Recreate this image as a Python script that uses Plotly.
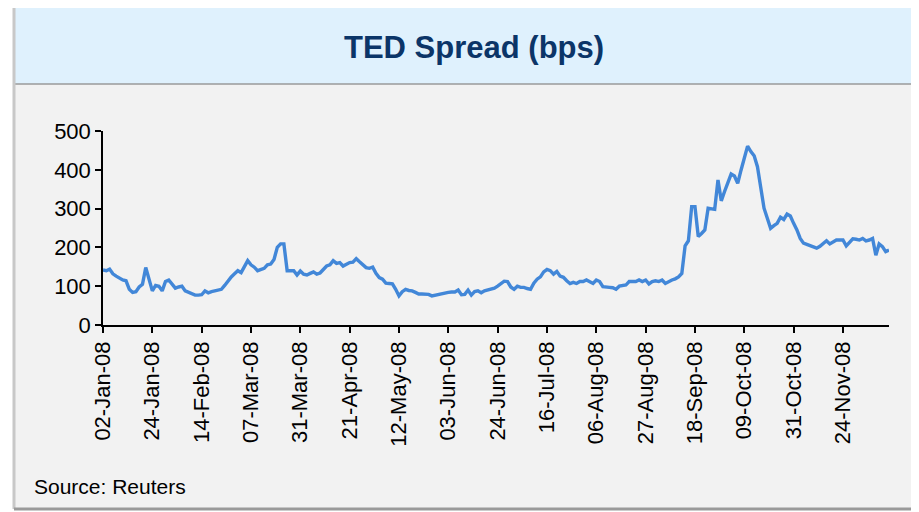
import pandas as pd
import plotly.graph_objects as go

# Trading days 2008 (bond-market calendar, holidays dropped)
holidays = ["2008-01-01", "2008-01-21", "2008-02-18", "2008-03-21", "2008-05-26",
            "2008-07-04", "2008-09-01", "2008-10-13", "2008-11-11", "2008-11-27"]
dates = pd.bdate_range("2008-01-02", "2008-12-15", freq="C", holidays=holidays)
labels = [d.strftime("%d-%b-%y") for d in dates]

# TED spread, bps
ted_bps = [
    142, 140, 144, 132, 126, 120, 116, 114, 92, 84,
    86, 98, 105, 148, 116, 88, 102, 100, 88, 112,
    116, 104, 95, 98, 100, 88, 84, 80, 77, 77,
    78, 88, 83, 86, 88, 88, 92, 102, 114, 124,
    132, 140, 135, 150, 166, 155, 149, 140, 143, 146,
    155, 157, 169, 200, 209, 209, 140, 140, 140, 129,
    139, 131, 129, 133, 137, 131, 134, 143, 152, 155,
    166, 159, 161, 152, 156, 161, 162, 171, 163, 155,
    148, 146, 149, 133, 122, 118, 108, 107, 106, 92,
    75, 86, 92, 89, 88, 84, 80, 80, 80, 79,
    75, 77, 80, 80, 83, 84, 85, 85, 90, 78,
    79, 90, 77, 86, 88, 83, 88, 90, 92, 95,
    100, 106, 113, 112, 98, 92, 100, 97, 97, 94,
    92, 108, 118, 124, 137, 143, 140, 131, 138, 126,
    123, 114, 107, 110, 107, 112, 112, 116, 112, 107,
    116, 112, 99, 97, 97, 96, 92, 100, 101, 103,
    112, 112, 112, 116, 112, 116, 106, 112, 114, 112,
    116, 107, 112, 116, 119, 124, 133, 204, 217, 305,
    305, 228, 236, 245, 301, 300, 298, 374, 320, 344,
    366, 389, 384, 365, 399, 427, 461, 447, 436, 408,
    355, 301, 275, 249, 256, 262, 278, 272, 286, 281,
    262, 245, 223, 211, 208, 204, 202, 198, 203, 211,
    217, 209, 214, 219, 219, 219, 204, 214, 222, 221,
    219, 223, 217, 219, 223, 180, 209, 202, 189, 193,
]
tick_labels = labels[::15]

W, H = 919, 512
OFF = 8  # the page body margin shifts the figure by 8px
L, R, T, B = 103, 889, 131, 325  # plot area as seen on screen


def px(x):
    return (x - L) / (R - L)


def py(y):
    return (B - y) / (B - T)


fig = go.Figure(go.Scatter(
    x=labels, y=ted_bps, mode="lines",
    line=dict(color="#4287d8", width=3.4),
    hoverinfo="x+y",
))

shapes = [
    # lower grey panel
    dict(type="rect", xref="paper", yref="paper", layer="below",
         x0=px(14), x1=px(940), y0=py(509), y1=py(84),
         fillcolor="#f2f2f2", line=dict(width=0)),
    # header band
    dict(type="rect", xref="paper", yref="paper", layer="below",
         x0=px(14), x1=px(940), y0=py(84), y1=py(7),
         fillcolor="#dff1fd", line=dict(width=0)),
    # separator under the header
    dict(type="line", xref="paper", yref="paper",
         x0=px(14), x1=px(940), y0=py(84), y1=py(84),
         line=dict(color="#9a9a9a", width=1.5)),
    # left shadow edge
    dict(type="line", xref="paper", yref="paper",
         x0=px(14), x1=px(14), y0=py(509), y1=py(7),
         line=dict(color="#c8c8c8", width=3)),
    # bottom edge
    dict(type="line", xref="paper", yref="paper",
         x0=px(14), x1=px(940), y0=py(509), y1=py(509),
         line=dict(color="#9a9a9a", width=3)),
]

fig.update_layout(
    width=W, height=H,
    margin=dict(l=L - OFF, r=W - (R - OFF), t=T - OFF, b=H - (B - OFF)),
    paper_bgcolor="white",
    plot_bgcolor="rgba(0,0,0,0)",
    showlegend=False,
    font=dict(family="Liberation Sans, Arial, sans-serif", color="black", size=22),
    shapes=shapes,
    annotations=[
        dict(text="<b>TED Spread (bps)</b>", xref="paper", yref="paper",
             x=px(474), y=py(47), xanchor="center", yanchor="middle",
             showarrow=False, font=dict(size=31, color="#0b3568")),
        dict(text="Source: Reuters", xref="paper", yref="paper",
             x=px(32), y=py(486), xanchor="left", yanchor="middle",
             showarrow=False, font=dict(size=21, color="black")),
    ],
)

fig.update_xaxes(
    type="category", range=[0, len(labels) - 1],
    tickmode="array", tickvals=tick_labels, ticktext=tick_labels,
    tickangle=-90, ticks="outside", ticklen=6, tickwidth=1.5, tickcolor="black",
    showline=True, linecolor="black", linewidth=1.5,
    showgrid=False, zeroline=False,
)
fig.update_yaxes(
    range=[0, 500], tickvals=[0, 100, 200, 300, 400, 500],
    ticks="outside", ticklen=6, tickwidth=1.5, tickcolor="black",
    showline=True, linecolor="black", linewidth=1.5,
    showgrid=False, zeroline=False,
)

fig.write_html("out.html")
